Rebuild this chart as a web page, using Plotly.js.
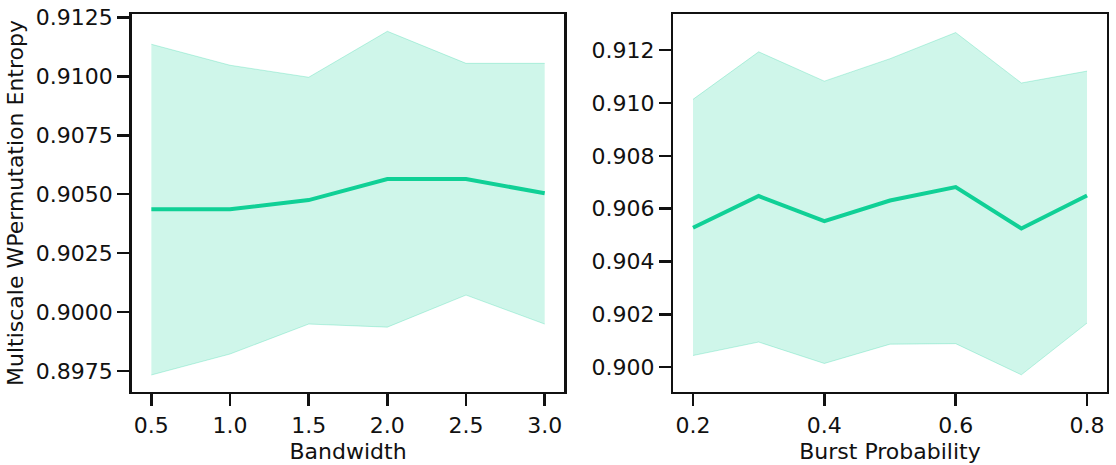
<!DOCTYPE html>
<html>
<head>
<meta charset="utf-8">
<script src="https://cdn.plot.ly/plotly-3.0.1.min.js"></script>
<style>html,body{margin:0;padding:0;background:#fff;}#chart{width:1116px;height:465px;}</style>
</head>
<body>
<div id="chart"></div>
<script>
// Left panel: Bandwidth
const bandwidth = [0.5, 1.0, 1.5, 2.0, 2.5, 3.0];
const bwMean  = [0.90436, 0.90436, 0.90475, 0.90564, 0.90564, 0.90504];
const bwUpper = [0.91136, 0.91047, 0.90996, 0.91191, 0.91055, 0.91055];
const bwLower = [0.89733, 0.89822, 0.89949, 0.89936, 0.90072, 0.89949];

// Right panel: Burst Probability
const burstProb = [0.2, 0.3, 0.4, 0.5, 0.6, 0.7, 0.8];
const bpMean  = [0.90528, 0.90648, 0.90553, 0.90631, 0.90682, 0.90525, 0.90650];
const bpUpper = [0.91014, 0.91194, 0.91083, 0.91168, 0.91267, 0.91076, 0.91121];
const bpLower = [0.90044, 0.90095, 0.90014, 0.90087, 0.90089, 0.89971, 0.90167];

const leftYTicks  = [0.8975, 0.9000, 0.9025, 0.9050, 0.9075, 0.9100, 0.9125];
const leftXTicks  = [0.5, 1.0, 1.5, 2.0, 2.5, 3.0];
const rightYTicks = [0.900, 0.902, 0.904, 0.906, 0.908, 0.910, 0.912];
const rightXTicks = [0.2, 0.4, 0.6, 0.8];

const LINE = 'rgb(16,208,150)';
const FILL = 'rgba(16,208,150,0.2)';
const EDGE = 'rgba(16,208,150,0.25)';
const FONT = 'DejaVu Sans';
const INK = '#111111';

function band(x, lo, hi, mean, xa, ya) {
  return [
    {x: x, y: lo, xaxis: xa, yaxis: ya, mode: 'lines', line: {color: EDGE, width: 1}, hoverinfo: 'skip', showlegend: false},
    {x: x, y: hi, xaxis: xa, yaxis: ya, mode: 'lines', fill: 'tonexty', fillcolor: FILL, line: {color: EDGE, width: 1}, hoverinfo: 'skip', showlegend: false},
    {x: x, y: mean, xaxis: xa, yaxis: ya, mode: 'lines', line: {color: LINE, width: 4}, showlegend: false}
  ];
}

const data = [].concat(
  band(bandwidth, bwLower, bwUpper, bwMean, 'x', 'y'),
  band(burstProb, bpLower, bpUpper, bpMean, 'x2', 'y2')
);

function axis(extra) {
  return Object.assign({
    showline: true, mirror: true, linewidth: 2.5, linecolor: INK,
    ticks: 'outside', ticklen: 12, tickwidth: 2.5, tickcolor: INK,
    showgrid: false, zeroline: false,
    tickfont: {family: FONT, size: 22, color: INK},
    tickmode: 'array', automargin: false
  }, extra);
}

const TF = {family: FONT, size: 22, color: INK};

const layout = {
  width: 1116, height: 465,
  margin: {l: 0, r: 0, t: 0, b: 0},
  paper_bgcolor: '#fff', plot_bgcolor: '#fff',
  font: {family: FONT, color: INK},
  showlegend: false,
  xaxis: axis({domain: [0.118, 0.5057], range: [0.375, 3.125], tickvals: leftXTicks, ticktext: leftXTicks.map(v => v.toFixed(1)),
    title: {text: 'Bandwidth', font: TF, standoff: 7}, anchor: 'y'}),
  yaxis: axis({domain: [0.1576, 0.9692], range: [0.89662, 0.91263], tickvals: leftYTicks, ticktext: leftYTicks.map(v => v.toFixed(4)),
    title: {text: 'Multiscale WPermutation Entropy', font: TF, standoff: 6}, anchor: 'x'}),
  xaxis2: axis({domain: [0.6033, 0.9917], range: [0.17, 0.83], tickvals: rightXTicks, ticktext: rightXTicks.map(v => v.toFixed(1)),
    title: {text: 'Burst Probability', font: TF, standoff: 7}, anchor: 'y2'}),
  yaxis2: axis({domain: [0.1576, 0.9692], range: [0.89907, 0.91336], tickvals: rightYTicks, ticktext: rightYTicks.map(v => v.toFixed(3)), anchor: 'x2'})
};

Plotly.newPlot('chart', data, layout, {staticPlot: true, displayModeBar: false});
</script>
</body>
</html>
